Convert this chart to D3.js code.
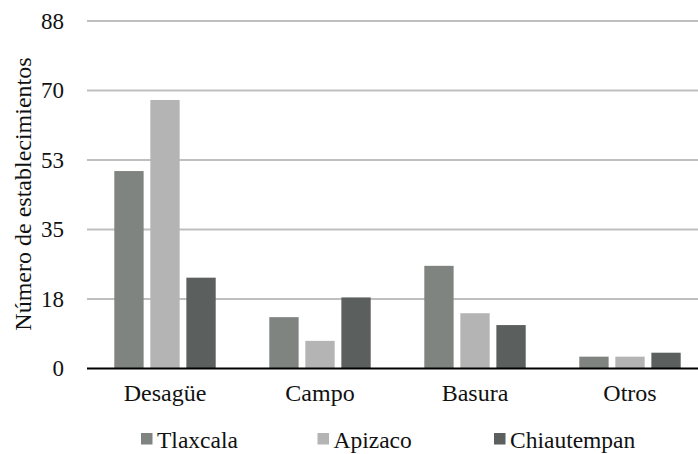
<!DOCTYPE html>
<html>
<head>
<meta charset="utf-8">
<script src="https://cdn.jsdelivr.net/npm/d3@7"></script>
<style>
  html, body { margin: 0; padding: 0; background: #fff; }
  svg { display: block; }
  svg text { font-family: "Liberation Serif", "Times New Roman", serif; fill: #111; }
</style>
</head>
<body>
<svg id="chart" width="698" height="454"></svg>
<script>
// Wastewater / residue destination by municipality
const categories = ["Desagüe", "Campo", "Basura", "Otros"];
const seriesNames = ["Tlaxcala", "Apizaco", "Chiautempan"];
const tlaxcala = [50, 13, 26, 3];
const apizaco = [68, 7, 14, 3];
const chiautempan = [23, 18, 11, 4];
const yTicks = [0, 17.6, 35.2, 52.8, 70.4, 88];
const yTickLabels = ["0", "18", "35", "53", "70", "88"];
const yTitle = "Número de establecimientos";

const seriesValues = [tlaxcala, apizaco, chiautempan];
const colors = ["#7f8481", "#b4b4b4", "#5b5f5d"];
const FONT = "Liberation Serif";

const svg = d3.select("#chart");
const W = 698, H = 454;
const plot = { left: 87.5, right: 707.5, top: 21, bottom: 368.5 };

const y = d3.scaleLinear().domain([0, 88]).range([plot.bottom, plot.top]);
const x0 = d3.scaleBand().domain(categories).range([plot.left, plot.right]).padding(0);
const groupPad = 26.8;
const x1 = d3.scaleBand().domain(seriesNames)
  .range([groupPad, x0.bandwidth() - groupPad])
  .paddingInner(0.186).paddingOuter(0);

// gridlines
const grid = svg.append("g");
grid.selectAll("line").data(yTicks.slice(1)).join("line")
  .attr("x1", 87).attr("x2", W)
  .attr("y1", d => y(d)).attr("y2", d => y(d))
  .attr("stroke", "#bfbfbf").attr("stroke-width", 2);

// bars
const groups = svg.append("g").selectAll("g").data(categories).join("g")
  .attr("transform", c => `translate(${x0(c)},0)`);
groups.selectAll("rect")
  .data((c, i) => seriesNames.map((s, k) => ({ s, k, v: seriesValues[k][i] })))
  .join("rect")
  .attr("x", d => x1(d.s))
  .attr("width", x1.bandwidth())
  .attr("y", d => y(d.v))
  .attr("height", d => y(0) - y(d.v))
  .attr("fill", d => colors[d.k]);

// baseline
svg.append("line")
  .attr("x1", 87).attr("x2", W)
  .attr("y1", y(0)).attr("y2", y(0))
  .attr("stroke", "#000").attr("stroke-width", 2);

// y tick labels
const yAxis = d3.axisLeft(y).tickValues(yTicks)
  .tickFormat((d, i) => yTickLabels[i]).tickSize(0).tickPadding(0);
const yg = svg.append("g").attr("transform", "translate(64,0)").call(yAxis)
  .attr("font-size", 23).attr("font-family", FONT);
yg.select(".domain").remove();
yg.selectAll("text").attr("fill", "#111");

// x category labels
const xAxis = d3.axisBottom(x0).tickSize(0).tickPadding(0);
const xg = svg.append("g").attr("transform", `translate(0,${plot.bottom + 15})`).call(xAxis)
  .attr("font-size", 24).attr("font-family", FONT);
xg.select(".domain").remove();
xg.selectAll("text").attr("fill", "#111");

// y title
svg.append("text")
  .attr("transform", "translate(31,194) rotate(-90)")
  .attr("text-anchor", "middle")
  .attr("font-family", FONT)
  .attr("font-size", 24)
  .text(yTitle);

// legend: equally spaced entries
const legendX = [141, 317.5, 494];
const lg = svg.append("g").selectAll("g").data(seriesNames).join("g")
  .attr("transform", (d, i) => `translate(${legendX[i]},433)`);
lg.append("rect").attr("width", 11.5).attr("height", 11.5).attr("fill", (d, i) => colors[i]);
lg.append("text").attr("x", 16).attr("y", 15)
  .attr("font-family", FONT).attr("font-size", 23.5).text(d => d);
</script>
</body>
</html>
